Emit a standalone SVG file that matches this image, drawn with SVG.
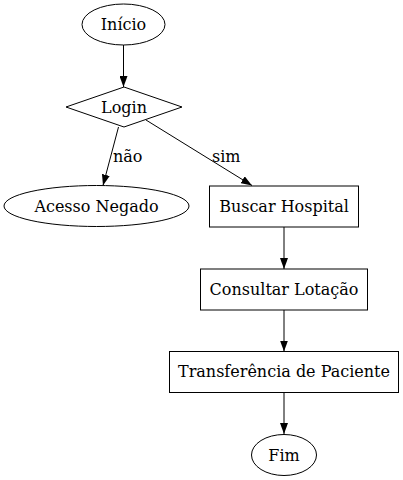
<svg xmlns="http://www.w3.org/2000/svg" width="403" height="480" viewBox="0 0 403 480">
<style>
text{font-family:"DejaVu Serif",serif;font-size:16px;fill:#000}
.n{text-anchor:middle}
.s{fill:#fff;stroke:#000;stroke-width:1}
.e{fill:none;stroke:#000;stroke-width:1}
</style>
<defs>
<marker id="a" viewBox="0 0 10 10" refX="10" refY="5" markerWidth="11" markerHeight="8" markerUnits="userSpaceOnUse" orient="auto" preserveAspectRatio="none">
<path d="M0,0L10,5L0,10Z" fill="#000"/>
</marker>
</defs>
<rect width="403" height="480" fill="#fff"/>
<g id="edges">
<path class="e" d="M123.5,43.5V87" marker-end="url(#a)"/>
<path class="e" d="M118.5,127L103,185.5" marker-end="url(#a)"/>
<text x="113" y="162">não</text>
<path class="e" d="M146,120L252,185.5" marker-end="url(#a)"/>
<text x="212" y="162">sim</text>
<path class="e" d="M284,227V269" marker-end="url(#a)"/>
<path class="e" d="M284,310V351.5" marker-end="url(#a)"/>
<path class="e" d="M284,392.5V434" marker-end="url(#a)"/>
</g>
<g id="inicio"><ellipse class="s" cx="123.5" cy="24.5" rx="41.5" ry="20.5"/><text class="n" x="123.5" y="30">Início</text></g>
<g id="login"><polygon class="s" points="124,87 182,107 124,127 66,107"/><text class="n" x="124" y="112.5">Login</text></g>
<g id="acesso"><ellipse class="s" cx="96.5" cy="206" rx="92.5" ry="20.5"/><text class="n" x="96.5" y="211.5">Acesso Negado</text></g>
<g id="buscar"><rect class="s" x="209.5" y="186" width="149" height="41"/><text class="n" x="284" y="211.5">Buscar Hospital</text></g>
<g id="consultar"><rect class="s" x="200.5" y="269" width="167" height="41"/><text class="n" x="284" y="294.5">Consultar Lotação</text></g>
<g id="transferencia"><rect class="s" x="169.5" y="351.5" width="229" height="41"/><text class="n" x="284" y="377">Transferência de Paciente</text></g>
<g id="fim"><ellipse class="s" cx="284" cy="455" rx="32.5" ry="20.5"/><text class="n" x="284" y="460.5">Fim</text></g>
</svg>
